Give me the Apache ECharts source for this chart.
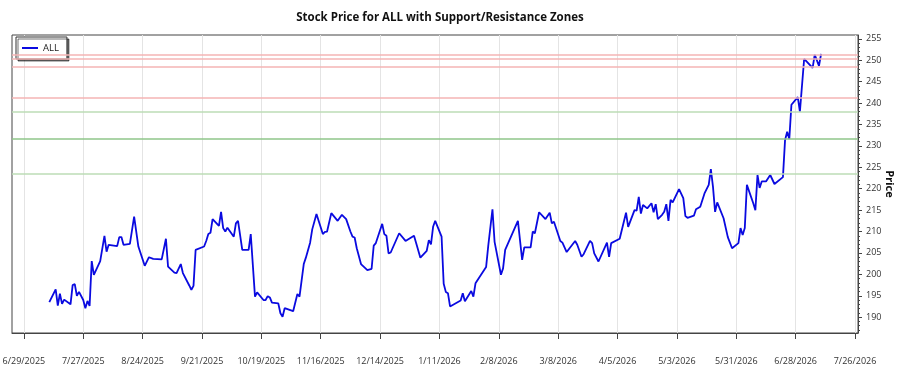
<!DOCTYPE html>
<html>
<head>
<meta charset="utf-8">
<script src="https://cdn.jsdelivr.net/npm/echarts@6/dist/echarts.min.js"></script>
<style>
  html, body { margin: 0; padding: 0; background: #fff; }
  #chart { width: 900px; height: 375px; }
</style>
</head>
<body>
<div id="chart"></div>
<script>
const DAY = 86400000;
const startDate = Date.UTC(2025, 6, 27);

// days since 7/27/2025
const dayOffsets = [
  -16, -13, -12, -11, -10, -9, -6, -5, -4, -3, -2, 0, 1, 2, 3, 4, 5, 8, 10, 11,
  12, 16, 17, 18, 19, 22, 24, 26, 29, 31, 33, 37, 39, 40, 43, 44, 46, 47, 50, 51,
  52, 53, 57, 58, 59, 60, 61, 64, 65, 66, 67, 68, 71, 72, 73, 75, 78, 79, 81, 82,
  85, 86, 87, 88, 89, 92, 93, 94, 95, 99, 101, 102, 104, 105, 107, 108, 110, 113, 114, 115,
  117, 120, 122, 124, 126, 127, 128, 129, 131, 134, 136, 137, 138, 141, 142, 143, 144, 145, 149, 152,
  156, 157, 159, 162, 163, 164, 165, 166, 169, 170, 171, 172, 173, 178, 179, 180, 183, 184, 185, 190,
  191, 193, 194, 197, 198, 199, 205, 207, 208, 211, 212, 213, 215, 218, 220, 221, 222, 225, 226, 228,
  232, 233, 235, 236, 239, 240, 241, 243, 247, 248, 249, 253, 256, 257, 260, 261, 262, 263, 264, 266,
  268, 269, 270, 271, 273, 274, 275, 276, 277, 278, 281, 283, 284, 285, 288, 289, 291, 293, 295, 296,
  297, 298, 299, 302, 304, 306, 309, 310, 311, 312, 313, 316, 317, 318, 319, 320, 322, 324, 326, 330,
  331, 332, 333, 334, 337, 338, 340, 344, 345, 347, 348
];

const prices = [
  193.5, 196.5, 192.7, 195.5, 193.1, 194.1, 193.0, 197.5, 197.7, 195.0, 195.9, 194.0, 192.1, 193.8, 192.6, 203.1, 199.9, 203.1, 209.0, 205.3,
  206.9, 206.6, 208.7, 208.7, 206.9, 207.1, 213.5, 206.5, 202.0, 204.0, 203.6, 203.5, 208.3, 201.8, 200.4, 200.3, 202.4, 200.3, 197.4, 196.4,
  197.3, 205.7, 206.5, 207.8, 209.4, 209.7, 212.9, 211.3, 214.6, 210.8, 210.0, 210.9, 208.8, 211.9, 212.5, 205.7, 205.7, 209.4, 194.8, 195.8,
  194.0, 194.0, 194.9, 194.6, 193.4, 193.2, 190.9, 190.1, 192.1, 191.4, 195.4, 194.8, 202.4, 203.9, 207.4, 210.5, 214.1, 209.4, 209.9, 210.0,
  214.3, 212.5, 213.9, 212.9, 210.0, 208.8, 208.6, 206.1, 202.4, 201.0, 201.3, 206.7, 207.3, 211.8, 209.4, 209.0, 204.9, 205.1, 209.6, 207.8,
  209.0, 207.3, 203.9, 205.5, 208.0, 207.0, 211.1, 212.5, 208.8, 197.8, 195.9, 195.6, 192.5, 193.9, 195.6, 193.7, 196.1, 194.8, 197.9, 201.7,
  206.6, 215.2, 207.6, 199.9, 201.4, 205.7, 212.5, 203.4, 206.3, 206.3, 210.0, 209.6, 214.5, 212.9, 214.4, 211.9, 212.3, 207.8, 207.4, 205.2,
  207.8, 206.9, 204.1, 204.7, 207.8, 207.3, 204.9, 203.0, 207.4, 204.1, 207.3, 208.3, 214.4, 211.1, 215.0, 214.9, 218.1, 214.2, 216.2, 215.4,
  216.6, 214.5, 216.4, 212.9, 213.9, 214.6, 216.4, 212.5, 217.4, 216.8, 219.9, 217.8, 213.6, 213.2, 213.7, 215.2, 215.8, 218.9, 220.9, 224.6,
  220.5, 214.6, 216.8, 213.1, 208.7, 206.1, 207.3, 210.8, 209.2, 210.8, 220.9, 216.6, 215.0, 223.2, 220.2, 221.7, 221.7, 223.2, 221.1, 222.7,
  231.4, 233.3, 231.6, 239.6, 241.4, 238.0, 250.3, 248.2, 251.3, 248.7, 251.5
];

const resistanceLevels = [251.4, 250.3, 248.5, 241.3];
const supportLevels = [237.9, 231.6, 223.5];

const tickLabels = [
  '6/29/2025', '7/27/2025', '8/24/2025', '9/21/2025', '10/19/2025', '11/16/2025', '12/14/2025',
  '1/11/2026', '2/8/2026', '3/8/2026', '4/5/2026', '5/3/2026', '5/31/2026', '6/28/2026', '7/26/2026'
];
const priceTicks = [190, 195, 200, 205, 210, 215, 220, 225, 230, 235, 240, 245, 250, 255];
const minorPriceTicks = [];
for (let p = 187; p <= 255; p++) minorPriceTicks.push(p);

const parseDate = s => {
  const [m, d, y] = s.split('/').map(Number);
  return Date.UTC(y, m - 1, d);
};
const fmtDate = v => {
  const d = new Date(v);
  return (d.getUTCMonth() + 1) + '/' + d.getUTCDate() + '/' + d.getUTCFullYear();
};

const tickValues = tickLabels.map(parseDate);
const seriesData = dayOffsets.map((d, i) => [startDate + d * DAY, prices[i]]);

const font = "'Open Sans', 'Noto Sans', sans-serif";
const yMin = 186.3;
const yMax = 255.9;

const chart = echarts.init(document.getElementById('chart'), null, { renderer: 'canvas' });

const zoneLines = [
  ...resistanceLevels.map(v => ({ yAxis: v, lineStyle: { color: '#f4b4b4' } })),
  ...supportLevels.map((v, i) => ({ yAxis: v, lineStyle: { color: i === 1 ? '#8fc68a' : '#bcdcb6' } }))
];

chart.setOption({
  animation: false,
  backgroundColor: '#fff',
  title: {
    text: 'Stock Price for ALL with Support/Resistance Zones',
    left: 435,
    textAlign: 'center',
    top: 7,
    textStyle: { fontFamily: font, fontSize: 11.5, fontWeight: 'bold', color: '#111' }
  },
  legend: {
    data: [{ name: 'ALL', icon: 'rect' }],
    left: 16,
    top: 37,
    orient: 'vertical',
    padding: [6, 8, 6, 6],
    itemWidth: 16,
    itemHeight: 2,
    backgroundColor: '#fff',
    borderColor: '#333',
    borderWidth: 1,
    borderRadius: 0,
    shadowColor: 'rgba(0,0,0,0.55)',
    shadowBlur: 0,
    shadowOffsetX: 2,
    shadowOffsetY: 2,
    textStyle: { fontFamily: font, fontSize: 9.5, color: '#222' }
  },
  grid: {
    left: 12,
    right: 42,
    top: 35,
    bottom: 42,
    outerBoundsMode: 'none',
    containLabel: false,
    show: true,
    borderColor: '#444',
    borderWidth: 1
  },
  xAxis: {
    type: 'value',
    min: startDate - 33.6 * DAY,
    max: startDate + 365.4 * DAY,
    axisLine: { show: true, lineStyle: { color: '#444' } },
    axisTick: { show: true, customValues: tickValues, length: 6, inside: false, lineStyle: { color: '#444' } },
    axisLabel: {
      customValues: tickValues,
      formatter: fmtDate,
      margin: 24,
      fontFamily: font,
      fontSize: 9,
      color: '#333'
    },
    splitLine: { show: true, lineStyle: { color: '#e4e4e4', width: 1 } }
  },
  yAxis: [
    {
      type: 'value',
      position: 'right',
      min: yMin,
      max: yMax,
      name: 'Price',
      nameLocation: 'middle',
      nameRotate: -90,
      nameGap: 26,
      nameMoveOverlap: false,
      nameTextStyle: { fontFamily: font, fontSize: 11, fontWeight: 'bold', color: '#111' },
      axisLine: { show: true, lineStyle: { color: '#444' } },
      axisTick: { show: true, customValues: priceTicks, length: 4, lineStyle: { color: '#444' } },
      axisLabel: { customValues: priceTicks, margin: 8, fontFamily: font, fontSize: 9, color: '#333' },
      splitLine: { show: false }
    },
    {
      type: 'value',
      position: 'right',
      min: yMin,
      max: yMax,
      axisLine: { show: false },
      axisTick: { show: true, customValues: minorPriceTicks, length: 2, lineStyle: { color: '#444' } },
      axisLabel: { show: false },
      splitLine: { show: false }
    }
  ],
  series: [
    {
      name: 'zones',
      type: 'line',
      data: [],
      z: 1,
      silent: true,
      markLine: {
        silent: true,
        symbol: 'none',
        label: { show: false },
        lineStyle: { type: 'solid', width: 1.5 },
        data: zoneLines
      }
    },
    {
      name: 'ALL',
      type: 'line',
      data: seriesData,
      z: 3,
      showSymbol: false,
      symbol: 'none',
      lineStyle: { color: '#0a0ae0', width: 1.8 },
      itemStyle: { color: '#0a0ae0' }
    }
  ]
});
</script>
</body>
</html>
